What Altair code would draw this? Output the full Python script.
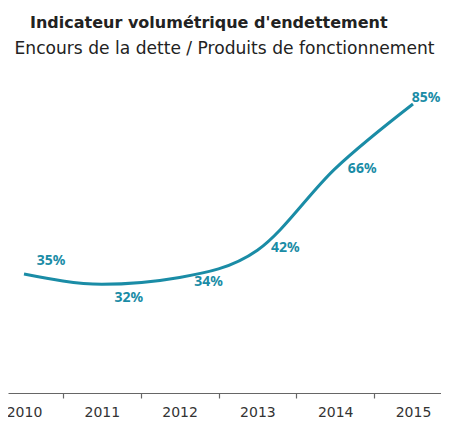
import altair as alt
import pandas as pd

# ---- data ----
years = [2010, 2011, 2012, 2013, 2014, 2015]
ratios = [35, 32, 34, 42, 66, 85]
labels = ["35%", "32%", "34%", "42%", "66%", "85%"]

title_text = "Indicateur volumétrique d'endettement"
subtitle_text = "Encours de la dette / Produits de fonctionnement"

df = pd.DataFrame({"year": years, "ratio": ratios, "label": labels})

TEAL = "#1a8ca6"
FONT = "Noto Sans"
TFONT = "DejaVu Sans"

PX_PER_YEAR = 77.8
W = 433
H = 340
x_min = 2010 - 16 / PX_PER_YEAR
x_max = x_min + W / PX_PER_YEAR

x_scale = alt.Scale(domain=[x_min, x_max], nice=False, zero=False)
y_scale = alt.Scale(domain=[0, 100], nice=False, zero=True)

x_axis = alt.Axis(
    values=years, format="d", title=None, grid=False,
    tickOffset=PX_PER_YEAR / 2, labelOffset=-PX_PER_YEAR / 2,
    tickSize=5, tickColor="#666666", domainColor="#666666",
    domainWidth=1.2, tickWidth=1.2,
    labelFont=TFONT, labelFontSize=14, labelColor="#333333",
    labelPadding=7, labelFlush=False, labelOverlap=False,
)
y_axis = alt.Axis(
    title=subtitle_text, labels=False, ticks=False, domain=False, grid=False,
    titleAngle=0, titleAlign="left", titleBaseline="alphabetic",
    titleX=6, titleY=0, titleFont=TFONT, titleFontSize=17.1,
    titleFontWeight="normal", titleColor="#222222",
)

base = alt.Chart(df)

line = base.mark_line(color=TEAL, strokeWidth=3, interpolate="monotone").encode(
    x=alt.X("year:Q", scale=x_scale, axis=x_axis),
    y=alt.Y("ratio:Q", scale=y_scale, axis=y_axis),
)

label_dx = {2010: 27, 2011: 27, 2012: 29, 2013: 28, 2014: 27, 2015: 13}
label_dy = {2010: -13, 2011: 14, 2012: 5, 2013: -2, 2014: 0, 2015: -6}

text_layers = []
for yr in years:
    text_layers.append(
        base.transform_filter(alt.datum.year == yr)
        .mark_text(
            color=TEAL, font=FONT, fontSize=14, fontWeight="bold",
            align="center", baseline="middle",
            dx=label_dx[yr], dy=label_dy[yr],
        )
        .encode(
            x=alt.X("year:Q", scale=x_scale),
            y=alt.Y("ratio:Q", scale=y_scale),
            text="label:N",
        )
    )

chart = (
    alt.layer(line, *text_layers)
    .properties(
        width=W, height=H,
        autosize=alt.AutoSizeParams(type="none"),
        padding={"left": 0, "top": 45, "right": 0, "bottom": 26},
        title=alt.TitleParams(
            text=title_text, anchor="start", frame="group", dx=22, dy=-4,
            font=TFONT, fontSize=16, fontWeight="bold", color="#222222",
        ),
        background="white",
    )
    .configure_view(strokeWidth=0)
)

chart.save("out.html", embed_options={"renderer": "svg", "actions": False})
